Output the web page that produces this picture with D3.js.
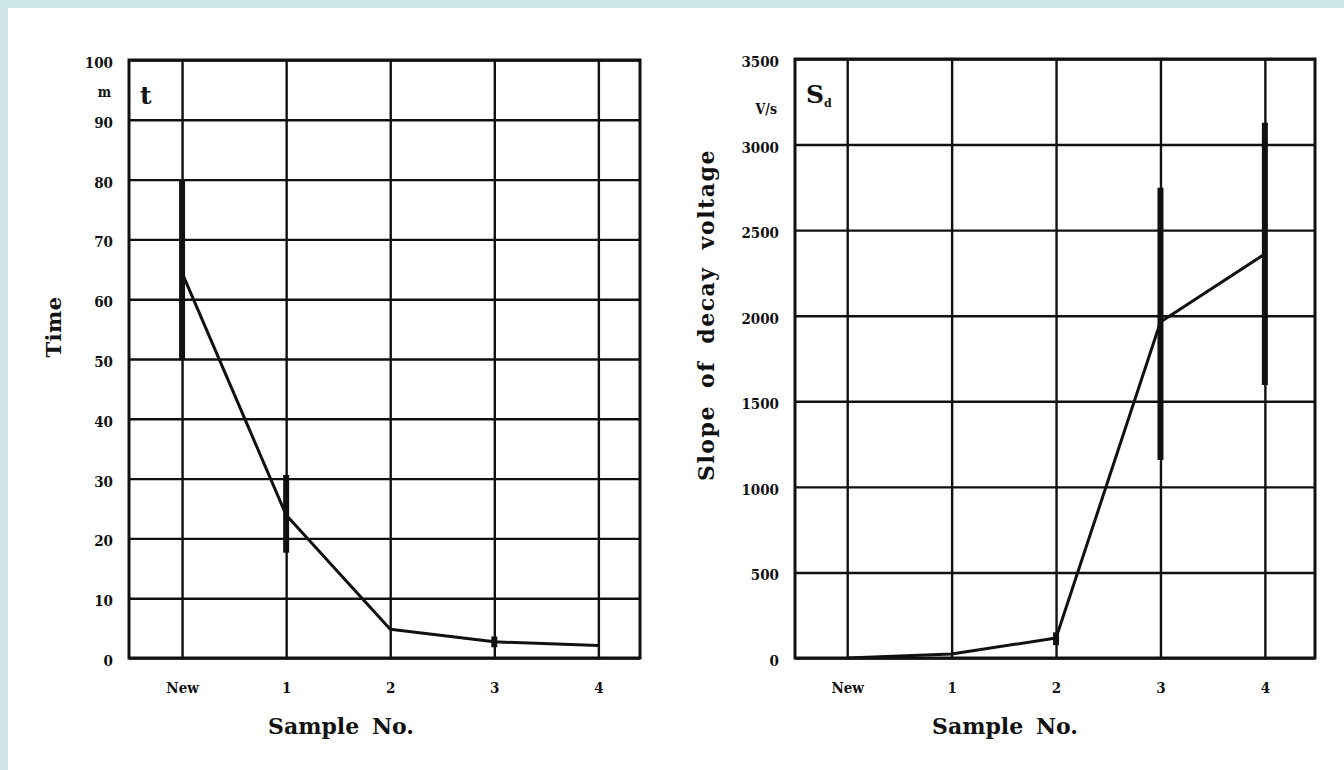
<!DOCTYPE html>
<html>
<head>
<meta charset="utf-8">
<script src="https://cdn.jsdelivr.net/npm/d3@7"></script>
<style>
  html, body { margin: 0; padding: 0; background: #cfe6ea; }
  svg { display: block; }
  text { font-family: "DejaVu Serif", "Liberation Serif", serif; font-weight: bold; fill: #111; }
</style>
</head>
<body>
<div id="viz"></div>
<script>
// categories and values
var samples = ["New", "1", "2", "3", "4"];

// left panel: time t (m)
var timeTicks = [0, 10, 20, 30, 40, 50, 60, 70, 80, 90, 100];
var timeMean = [64.4, 23.9, 4.8, 2.7, 2.1];
var timeLow = [49.8, 17.6, null, 1.8, null];
var timeHigh = [80, 30.6, null, 3.6, null];

// right panel: slope of decay voltage S_d (V/s)
var slopeTicks = [0, 500, 1000, 1500, 2000, 2500, 3000, 3500];
var slopeMean = [0, 23, 117, 1963, 2361];
var slopeLow = [null, null, 75, 1157, 1595];
var slopeHigh = [null, null, 150, 2747, 3127];

var W = 1344, H = 770;

var svg = d3.select("#viz")
    .append("svg")
    .attr("width", W)
    .attr("height", H);

// white paper with light blue edge at top and left
svg.append("rect")
    .attr("x", 8).attr("y", 8)
    .attr("width", W - 8).attr("height", H - 8)
    .attr("fill", "#ffffff");

var tickFont = "'DejaVu Serif Condensed', 'DejaVu Serif', serif";

function panel(cfg) {
    var g = svg.append("g");

    var x = d3.scaleLinear()
        .domain([cfg.xMin, cfg.xMax])
        .range([cfg.left, cfg.right]);

    var y = d3.scaleLinear()
        .domain([0, d3.max(cfg.ticks)])
        .range([cfg.bottom, cfg.top]);

    // horizontal gridlines (through the y axis)
    g.append("g")
        .attr("transform", "translate(" + cfg.left + ",0)")
        .call(d3.axisLeft(y)
            .tickValues(cfg.ticks)
            .tickSize(-(cfg.right - cfg.left))
            .tickPadding(16)
            .tickFormat(function (d) { return d; }))
        .call(function (a) {
            a.select(".domain").remove();
            a.selectAll("line").attr("stroke", "#111").attr("stroke-width", 2.4);
            a.selectAll("text")
                .attr("dy", "0.5em")
                .style("font-size", "15px")
                .style("font-family", tickFont)
                .style("font-weight", "bold")
                .attr("fill", "#111");
        });

    // vertical gridlines at each sample
    g.append("g")
        .attr("transform", "translate(0," + cfg.bottom + ")")
        .call(d3.axisBottom(x)
            .tickValues(d3.range(samples.length))
            .tickSize(-(cfg.bottom - cfg.top))
            .tickPadding(24)
            .tickFormat(function (i) { return samples[i]; }))
        .call(function (a) {
            a.select(".domain").remove();
            a.selectAll("line").attr("stroke", "#111").attr("stroke-width", 2.4);
            a.selectAll("text")
                .style("font-size", "15px")
                .style("font-family", tickFont)
                .style("font-weight", "bold")
                .attr("fill", "#111");
        });

    // frame
    g.append("rect")
        .attr("x", cfg.left).attr("y", cfg.top)
        .attr("width", cfg.right - cfg.left)
        .attr("height", cfg.bottom - cfg.top)
        .attr("fill", "none")
        .attr("stroke", "#111")
        .attr("stroke-width", 3);

    // error bars
    g.selectAll(".err")
        .data(d3.range(samples.length).filter(function (i) { return cfg.low[i] != null; }))
        .enter()
        .append("line")
        .attr("x1", function (i) { return x(i); })
        .attr("x2", function (i) { return x(i); })
        .attr("y1", function (i) { return y(cfg.low[i]); })
        .attr("y2", function (i) { return y(cfg.high[i]); })
        .attr("stroke", "#111")
        .attr("stroke-width", 6);

    // mean line
    g.append("path")
        .datum(cfg.mean)
        .attr("fill", "none")
        .attr("stroke", "#111")
        .attr("stroke-width", 3)
        .attr("stroke-linejoin", "round")
        .attr("d", d3.line()
            .x(function (d, i) { return x(i); })
            .y(function (d) { return y(d); }));

    // unit under top tick
    g.append("text")
        .attr("x", cfg.left - 18)
        .attr("y", cfg.unitY)
        .attr("text-anchor", "end")
        .style("font-size", "14px")
        .style("font-family", tickFont)
        .text(cfg.unit);

    // symbol in the corner cell
    var sym = g.append("text")
        .attr("x", cfg.left + 11)
        .attr("y", cfg.top + 44)
        .style("font-size", "25px")
        .text(cfg.symbol);
    if (cfg.sub) {
        sym.append("tspan")
            .attr("dy", 4)
            .style("font-size", "11px")
            .text(cfg.sub);
    }

    // y axis title
    g.append("text")
        .attr("transform", "translate(" + cfg.titleX + "," + cfg.titleY + ") rotate(-90)")
        .attr("text-anchor", "middle")
        .style("font-size", cfg.titleSize)
        .style("letter-spacing", cfg.titleSpacing)
        .style("word-spacing", cfg.wordSpacing)
        .text(cfg.yTitle);

    // x axis title
    g.append("text")
        .attr("x", cfg.xTitleX)
        .attr("y", 734)
        .attr("text-anchor", "middle")
        .style("font-size", "22px")
        .style("word-spacing", "5px")
        .text("Sample No.");
}

panel({
    left: 129, right: 640, top: 60, bottom: 658,
    xMin: -0.51, xMax: 4.4,
    ticks: timeTicks, mean: timeMean, low: timeLow, high: timeHigh,
    unit: "m", unitY: 97, symbol: "t", sub: null,
    yTitle: "Time", titleX: 61, titleY: 327,
    titleSize: "21px", titleSpacing: "0.5px", wordSpacing: "0px",
    xTitleX: 341
});

panel({
    left: 795, right: 1315, top: 59, bottom: 658,
    xMin: -0.5, xMax: 4.48,
    ticks: slopeTicks, mean: slopeMean, low: slopeLow, high: slopeHigh,
    unit: "V/s", unitY: 114, symbol: "S", sub: "d",
    yTitle: "Slope of decay voltage", titleX: 714, titleY: 315,
    titleSize: "22px", titleSpacing: "1.5px", wordSpacing: "8px",
    xTitleX: 1005
});
</script>
</body>
</html>
